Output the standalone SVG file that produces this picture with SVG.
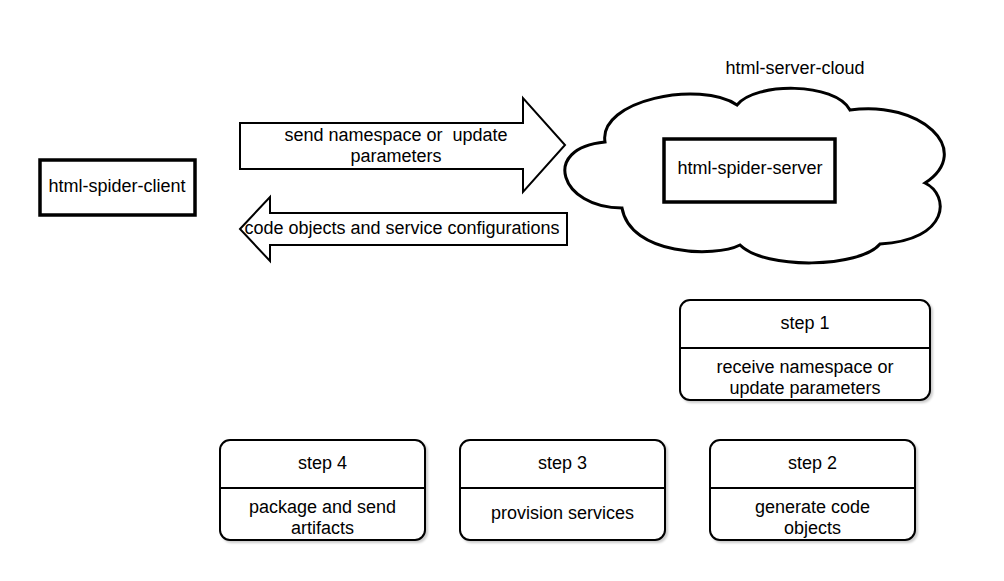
<svg xmlns="http://www.w3.org/2000/svg" width="1004" height="581" viewBox="0 0 1004 581">
<defs>
<style>
text{font-family:"Liberation Sans",Arial,sans-serif;font-size:18px;fill:#000;text-anchor:middle}
.box{fill:#fff;stroke:#000;stroke-width:3.5}
.arrow{fill:#fff;stroke:#000;stroke-width:2}
.step{fill:#fff;stroke:#000;stroke-width:2;filter:url(#sh)}
.div{stroke:#000;stroke-width:2}
</style>
<filter id="sh" x="-5%" y="-5%" width="115%" height="120%">
<feDropShadow dx="2" dy="2" stdDeviation="1" flood-color="#000" flood-opacity="0.2"/>
</filter>
</defs>
<rect width="1004" height="581" fill="#fff"/>
<g id="connectors">
<g id="send-arrow">
<polygon class="arrow" points="240,123 523,123 523,98 565,145 523,192 523,169 240,169"/>
<text x="396" y="141" xml:space="preserve">send namespace or  update</text>
<text x="396" y="162">parameters</text>
</g>
<g id="return-arrow">
<polygon class="arrow" points="240,229 270,197 270,213 567,213 567,245 270,245 270,261"/>
<text x="402" y="234">code objects and service configurations</text>
</g>
</g>
<g id="html-spider-client">
<rect class="box" x="40" y="160" width="155" height="55"/>
<text x="117" y="192">html-spider-client</text>
</g>
<g id="html-server-cloud">
<path fill="#fff" stroke="#000" stroke-width="3" d="M605,142 C598,100 700,80 737,105 C755,82 835,82 850,110 C920,100 975,150 925,183 C950,195 950,240 880,244 C860,268 765,270 740,245 C715,258 630,255 622,208 C560,208 540,148 605,142 Z"/>
<text x="795" y="74">html-server-cloud</text>
</g>
<g id="html-spider-server">
<rect class="box" x="664" y="139" width="171" height="63"/>
<text x="750" y="174">html-spider-server</text>
</g>
<g id="step1">
<rect class="step" x="680" y="300" width="250" height="100" rx="10"/>
<line class="div" x1="680" y1="348" x2="930" y2="348"/>
<text x="805" y="329">step 1</text>
<text x="805" y="373">receive namespace or</text>
<text x="805" y="394">update parameters</text>
</g>
<g id="step2">
<rect class="step" x="710" y="440" width="205" height="100" rx="10"/>
<line class="div" x1="710" y1="488" x2="915" y2="488"/>
<text x="812.5" y="469">step 2</text>
<text x="812.5" y="513">generate code</text>
<text x="812.5" y="534">objects</text>
</g>
<g id="step3">
<rect class="step" x="460" y="440" width="205" height="100" rx="10"/>
<line class="div" x1="460" y1="488" x2="665" y2="488"/>
<text x="562.5" y="469">step 3</text>
<text x="562.5" y="519">provision services</text>
</g>
<g id="step4">
<rect class="step" x="220" y="440" width="205" height="100" rx="10"/>
<line class="div" x1="220" y1="488" x2="425" y2="488"/>
<text x="322.5" y="469">step 4</text>
<text x="322.5" y="513">package and send</text>
<text x="322.5" y="534">artifacts</text>
</g>
</svg>
